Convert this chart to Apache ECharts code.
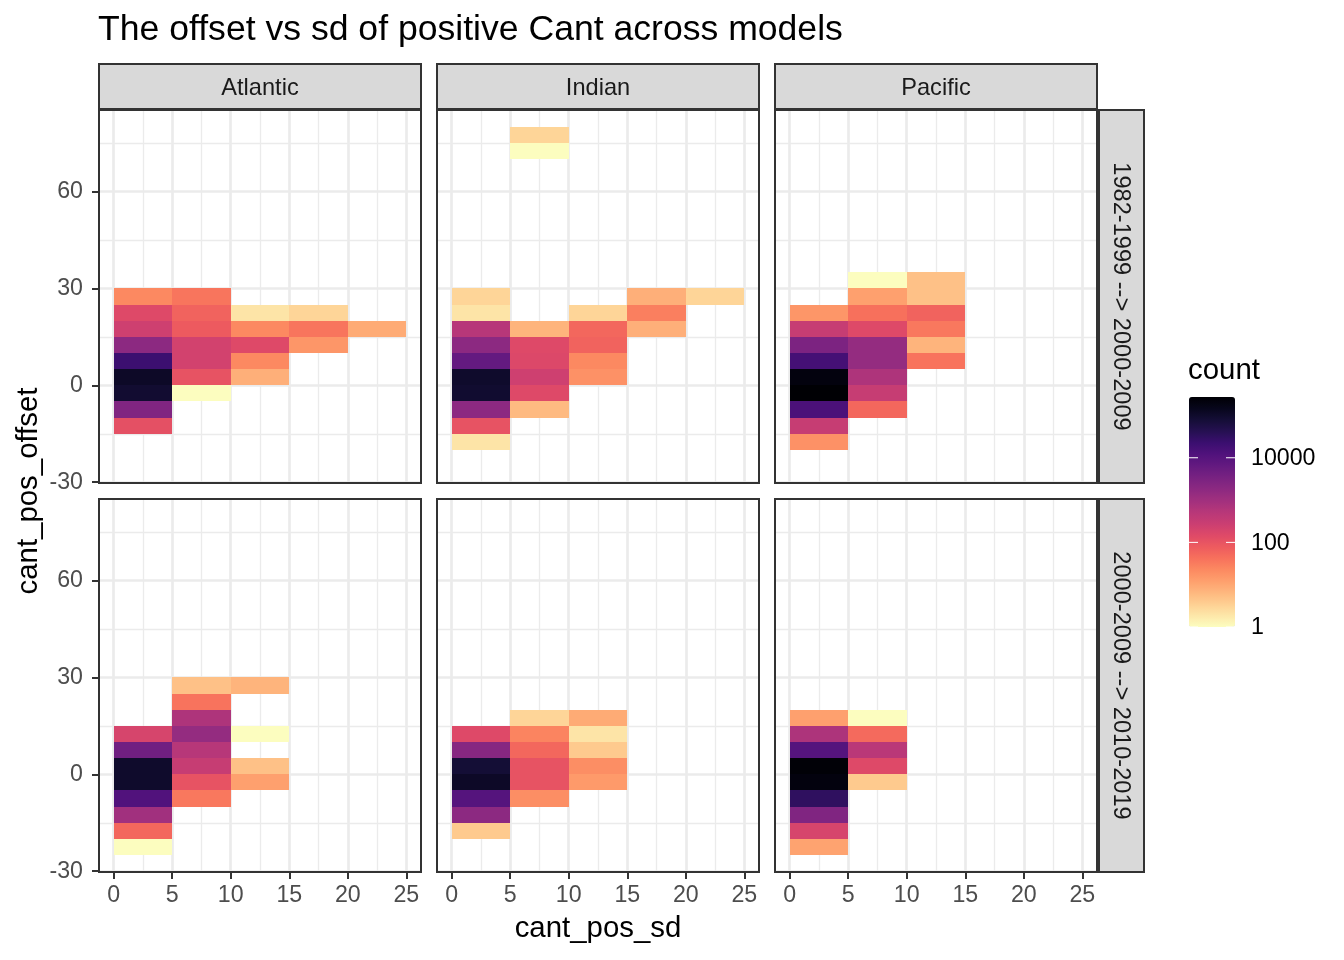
<!DOCTYPE html>
<html><head><meta charset="utf-8">
<script src="https://cdn.jsdelivr.net/npm/echarts@6/dist/echarts.min.js"></script>
<style>html,body{margin:0;padding:0;background:#fff}#c{width:1344px;height:960px}</style>
</head><body><div id="c"></div>
<script>
// ---------------- data ----------------
const basins = ['Atlantic', 'Indian', 'Pacific'];
const periods = ['1982-1999 --> 2000-2009', '2000-2009 --> 2010-2019'];
const xTicks = [0, 5, 10, 15, 20, 25];
const yTicks = [-30, 0, 30, 60];
const legendBreaks = [1, 100, 10000];
const binWidth = 5;
// each cell: [cant_pos_sd bin start, cant_pos_offset bin start, count]
const atlantic1 = [
  [0,25,23],[0,20,150],[0,15,245],[0,10,1830],[0,5,22000],[0,0,114000],[0,-5,89000],[0,-10,2650],[0,-15,117],
  [5,25,38],[5,20,62],[5,15,80],[5,10,218],[5,5,218],[5,0,103],[5,-5,1],
  [10,20,2],[10,15,23],[10,10,150],[10,5,23],[10,0,8],
  [15,20,3],[15,15,38],[15,10,16],
  [20,15,9]
];
const indian1 = [
  [5,75,3],[5,70,1],
  [0,25,3],[0,20,2],[0,15,520],[0,10,1830],[0,5,6400],[0,0,100000],[0,-5,92000],[0,-10,1830],[0,-15,103],[0,-20,2],
  [5,15,7],[5,10,150],[5,5,160],[5,0,245],[5,-5,150],[5,-10,6],
  [10,20,3],[10,15,55],[10,10,62],[10,5,23],[10,0,18],
  [15,25,8],[15,20,29],[15,15,8],
  [20,25,3]
];
const pacific1 = [
  [0,20,16],[0,15,315],[0,10,3000],[0,5,17000],[0,0,213000],[0,-5,273000],[0,-10,14000],[0,-15,315],[0,-20,18],
  [5,30,1],[5,25,12],[5,20,43],[5,15,150],[5,10,1420],[5,5,1420],[5,0,670],[5,-5,315],[5,-10,55],
  [10,30,5],[10,25,5],[10,20,62],[10,15,35],[10,10,7],[10,5,40]
];
const atlantic2 = [
  [0,10,192],[0,5,4400],[0,0,100000],[0,-5,100000],[0,-10,12000],[0,-15,980],[0,-20,55],[0,-25,1],
  [5,25,5],[5,20,40],[5,15,670],[5,10,1420],[5,5,520],[5,0,315],[5,-5,103],[5,-10,35],
  [10,25,7],[10,10,1],[10,0,5],[10,-5,12]
];
const indian2 = [
  [0,10,150],[0,5,2200],[0,0,80000],[0,-5,114000],[0,-10,10500],[0,-15,1830],[0,-20,4],
  [5,15,3],[5,10,26],[5,5,55],[5,0,103],[5,-5,103],[5,-10,20],
  [10,15,9],[10,10,2],[10,5,4],[10,0,20],[10,-5,14]
];
const pacific2 = [
  [0,15,12],[0,10,700],[0,5,10500],[0,0,255000],[0,-5,213000],[0,-10,32000],[0,-15,2650],[0,-20,192],[0,-25,11],
  [5,15,1],[5,10,50],[5,5,470],[5,0,150],[5,-5,4]
];

// ---------------- layout / style ----------------
const FONT = "'Liberation Sans', Arial, Helvetica, sans-serif";
const magmaLowToHigh = ['#FCFDBF','#FDE7A9','#FECF92','#FEB77E','#FE9F6D','#FC8961','#F7705C','#ED5A5F','#DE4968','#CA3E72','#B73779','#A1307E','#8C2981','#782281','#641A80','#51127C','#3B0F70','#261052','#150E37','#07061C','#000004'];
const colLeft = [99, 437, 775];
const rowTop = [110, 499];
const panelW = 322, panelH = 373;
const panels = [[atlantic1, indian1, pacific1], [atlantic2, indian2, pacific2]];
const TICK_FS = 23.2, STRIP_FS = 23.6, AXT_FS = 29.4, TITLE_FS = 35.6;

const allLog = [];
panels.forEach(r => r.forEach(p => p.forEach(d => allLog.push(Math.log10(d[2])))));
const logMin = Math.min(...allLog), logMax = Math.max(...allLog);

function renderItem(params, api) {
  const x0 = api.value(0), y0 = api.value(1);
  const p1 = api.coord([x0, y0 + binWidth]);
  const p2 = api.coord([x0 + binWidth, y0]);
  const x1 = Math.round(p1[0]), y1 = Math.round(p1[1]);
  const x2 = Math.round(p2[0]), y2 = Math.round(p2[1]);
  return { type: 'rect', shape: { x: x1, y: y1, width: x2 - x1, height: y2 - y1 },
           style: { fill: api.visual('color') } };
}

const grids = [], xAxes = [], yAxes = [], series = [];
for (let r = 0; r < 2; r++) {
  for (let c = 0; c < 3; c++) {
    const i = r * 3 + c;
    grids.push({ left: colLeft[c], top: rowTop[r], width: panelW, height: panelH, show: false });
    const showX = r === 1, showY = c === 0;
    xAxes.push({ type: 'value', gridIndex: i, min: -1.25, max: 26.25, splitNumber: 5,
      axisLine: { show: false, onZero: false },
      axisTick: { show: showX, length: 7, customValues: xTicks.slice(), lineStyle: { color: '#333333', width: 2 } },
      axisLabel: { show: showX, customValues: xTicks.slice(), color: '#4D4D4D', fontSize: TICK_FS, fontFamily: FONT, margin: 12 },
      splitLine: { show: true, lineStyle: { color: '#EBEBEB', width: 2.7 } },
      minorTick: { splitNumber: 2 },
      minorSplitLine: { show: true, lineStyle: { color: '#EBEBEB', width: 1.35 } } });
    yAxes.push({ type: 'value', gridIndex: i, min: -30.25, max: 85.25, splitNumber: 4,
      axisLine: { show: false, onZero: false },
      axisTick: { show: showY, length: 7, customValues: yTicks.slice(), lineStyle: { color: '#333333', width: 2 } },
      axisLabel: { show: showY, customValues: yTicks.slice(), color: '#4D4D4D', fontSize: TICK_FS, fontFamily: FONT, margin: 16 },
      splitLine: { show: true, lineStyle: { color: '#EBEBEB', width: 2.7 } },
      minorTick: { splitNumber: 2 },
      minorSplitLine: { show: true, lineStyle: { color: '#EBEBEB', width: 1.35 } } });
    series.push({ type: 'custom', xAxisIndex: i, yAxisIndex: i, renderItem,
      encode: { x: 0, y: 1 },
      data: panels[r][c].map(d => [d[0], d[1], d[2], Math.log10(d[2])]) });
  }
}

// ---------------- graphic (titles, strips, frames, legend text) ----------------
const barTop = 397, barH = 230, barLeft = 1189, barW = 46;
const g = [];
function txt(text, x, y, size, color, align, valign, rot) {
  const e = { type: 'text', x: x, y: y, z: 100,
    style: { text: text, fill: color, font: size + 'px ' + FONT,
             textAlign: align, textVerticalAlign: valign, align: align, verticalAlign: valign } };
  if (rot) e.rotation = rot;
  return e;
}
g.push(txt('The offset vs sd of positive Cant across models', 98, 30, TITLE_FS, '#000000', 'left', 'middle'));
for (let r = 0; r < 2; r++) for (let c = 0; c < 3; c++) {
  g.push({ type: 'rect', z: 95, silent: true, shape: { x: colLeft[c], y: rowTop[r], width: panelW, height: panelH },
    style: { fill: null, stroke: '#333333', lineWidth: 2 } });
}
for (let c = 0; c < 3; c++) {
  g.push({ type: 'rect', z: 90, shape: { x: colLeft[c], y: 64, width: panelW, height: 45 },
    style: { fill: '#D9D9D9', stroke: '#333333', lineWidth: 2 } });
  g.push(txt(basins[c], colLeft[c] + panelW / 2, 88, STRIP_FS, '#1A1A1A', 'center', 'middle'));
}
for (let r = 0; r < 2; r++) {
  g.push({ type: 'rect', z: 90, shape: { x: 1099, y: rowTop[r], width: 45, height: panelH },
    style: { fill: '#D9D9D9', stroke: '#333333', lineWidth: 2 } });
  g.push(txt(periods[r], 1121, rowTop[r] + panelH / 2, STRIP_FS, '#1A1A1A', 'center', 'middle', -Math.PI / 2));
}
g.push(txt('cant_pos_sd', 598, 929, AXT_FS, '#000000', 'center', 'middle'));
g.push(txt('cant_pos_offset', 29, 491, AXT_FS, '#000000', 'center', 'middle', Math.PI / 2));
g.push(txt('count', 1188, 371, AXT_FS, '#000000', 'left', 'middle'));
legendBreaks.forEach(v => {
  const y = barTop + barH - (Math.log10(v) - logMin) / (logMax - logMin) * barH;
  g.push(txt(String(v), 1251, y + 1, TICK_FS, '#000000', 'left', 'middle'));
  g.push({ type: 'line', z: 120, shape: { x1: barLeft, y1: y, x2: barLeft + 9, y2: y }, style: { stroke: '#FFFFFF', lineWidth: 1 } });
  g.push({ type: 'line', z: 120, shape: { x1: barLeft + barW - 9, y1: y, x2: barLeft + barW, y2: y }, style: { stroke: '#FFFFFF', lineWidth: 1 } });
});

const chart = echarts.init(document.getElementById('c'), null, { renderer: 'canvas' });
chart.setOption({
  animation: false,
  backgroundColor: '#FFFFFF',
  grid: grids, xAxis: xAxes, yAxis: yAxes, series: series,
  visualMap: { type: 'continuous', min: logMin, max: logMax, dimension: 3,
    seriesIndex: series.map((s, i) => i), inRange: { color: magmaLowToHigh },
    orient: 'vertical', left: barLeft, top: barTop, itemWidth: barW, itemHeight: barH,
    padding: 0, calculable: false, showLabel: false, text: null, hoverLink: false },
  graphic: { elements: g }
});
</script></body></html>
